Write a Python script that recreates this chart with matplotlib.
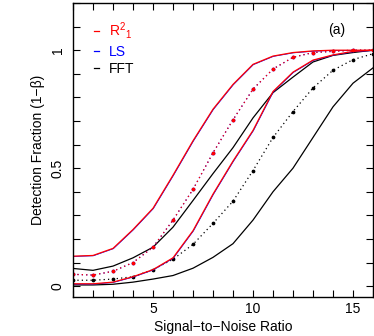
import numpy as np
import matplotlib
matplotlib.use("Agg")
import matplotlib.pyplot as plt
from matplotlib import transforms
from matplotlib.lines import Line2D

plt.rcParams['font.family'] = ['Liberation Sans', 'DejaVu Sans']
plt.rcParams['mathtext.fontset'] = 'custom'
plt.rcParams['mathtext.rm'] = 'Liberation Sans'
plt.rcParams['mathtext.it'] = 'Liberation Sans:italic'

snr = np.arange(1, 17)

# R^2_1 curves (three configurations)
r2_hi = [0.127, 0.13, 0.16, 0.24, 0.33, 0.47, 0.616, 0.75, 0.855, 0.94, 0.975, 0.99, 0.997, 1.0, 1.0, 1.0]
r2_mid = [0.05, 0.047, 0.063, 0.10, 0.165, 0.28, 0.41, 0.565, 0.705, 0.835, 0.92, 0.97, 0.99, 0.995, 1.0, 1.0]
r2_lo = [0.01, 0.01, 0.017, 0.04, 0.07, 0.12, 0.235, 0.39, 0.53, 0.66, 0.825, 0.907, 0.958, 0.98, 0.995, 1.0]

# LS curves (almost identical to R^2_1)
ls_hi = list(r2_hi)
ls_mid = list(r2_mid)
ls_lo = list(r2_lo)

# FFT curves
fft_hi = [0.075, 0.067, 0.085, 0.12, 0.165, 0.25, 0.363, 0.477, 0.587, 0.713, 0.82, 0.886, 0.95, 0.978, 0.99, 1.0]
fft_mid = [0.025, 0.025, 0.03, 0.04, 0.07, 0.114, 0.177, 0.266, 0.36, 0.49, 0.63, 0.74, 0.84, 0.915, 0.96, 0.985]
fft_lo = [0.005, 0.005, 0.008, 0.017, 0.03, 0.045, 0.076, 0.122, 0.18, 0.28, 0.40, 0.50, 0.63, 0.76, 0.86, 0.925]

fig = plt.figure(figsize=(3.74, 3.36), dpi=100)
ax = fig.add_axes([73/374, 39/336, 300/374, 294/336])

lw = 0.9
dot = dict(linestyle=(0, (1, 2.5)), marker='o', markersize=1.7)
shift = transforms.offset_copy(ax.transData, fig, x=0.4, y=-0.3, units='dots')

# FFT
ax.plot(snr, fft_hi, color='black', lw=lw)
ax.plot(snr, fft_mid, color='black', lw=lw, **dot)
ax.plot(snr, fft_lo, color='black', lw=lw)

# LS (drawn under R^2)
ax.plot(snr, ls_hi, color='blue', lw=0.6, transform=shift)
ax.plot(snr, ls_mid, color='blue', lw=lw, **dot)
ax.plot(snr, ls_lo, color='blue', lw=0.6, transform=shift)

# R^2_1
ax.plot(snr, r2_hi, color='red', lw=lw)
ax.plot(snr, r2_mid, color='red', lw=lw, **dot)
ax.plot(snr, r2_lo, color='red', lw=lw)

ax.set_xlim(1, 16)
ax.set_ylim(-0.046, 1.194)
ax.set_xticks([5, 10, 15])
ax.set_xticks(np.arange(1, 17), minor=True)
ax.set_yticks([0, 0.5, 1])
ax.set_yticklabels(['0', '0.5', '1'], rotation=90, va='center')
ax.set_yticks(np.arange(0, 1.21, 0.1), minor=True)
ax.tick_params(which='both', direction='in', length=5, width=0.8,
               top=True, right=True, labelsize=10)
ax.tick_params(axis='y', pad=6)
for s in ax.spines.values():
    s.set_linewidth(1.0)

ax.set_xlabel('Signal\u2212to\u2212Noise Ratio', fontsize=10, labelpad=3)
ax.set_ylabel('Detection Fraction (1\u2212\u03b2)', fontsize=10, labelpad=4)

ax.text(0.88, 0.908, '(a)', transform=ax.transAxes, fontsize=10,
        ha='center', va='center')

handles = [Line2D([], [], color='red', lw=lw),
           Line2D([], [], color='blue', lw=lw),
           Line2D([], [], color='black', lw=lw)]
labels = [r'R$^{2}{}_{1}$', 'LS', 'FFT']
ax.legend(handles, labels, loc='upper left', bbox_to_anchor=(0.05, 0.96),
          frameon=False, handlelength=0.4, handletextpad=0.7,
          labelspacing=0.25, fontsize=10, labelcolor='linecolor',
          borderaxespad=0)

fig.savefig('out.png', dpi=100)
